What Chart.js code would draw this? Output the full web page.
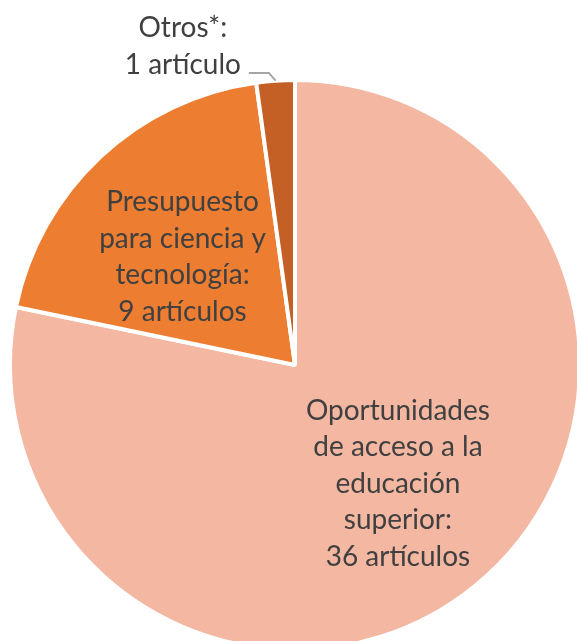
<!DOCTYPE html>
<html>
<head>
<meta charset="utf-8">
<script src="https://cdn.jsdelivr.net/npm/chart.js@4"></script>
<style>
  html, body { margin: 0; padding: 0; background: #fff; overflow: hidden; }
  body { width: 577px; height: 641px; position: relative; }
  #wrap { position: absolute; left: 0; top: 0; width: 582px; height: 652px; }
</style>
</head>
<body>
<div id="wrap"><canvas id="pieChart"></canvas></div>
<script>
// Articles per topic
const categories = [
    ['Oportunidades', 'de acceso a la', 'educación', 'superior:'],
    ['Presupuesto', 'para ciencia y', 'tecnología:'],
    ['Otros*:']
];
const articles = [36, 9, 1];
const unitLabels = ['36 artículos', '9 artículos', '1 artículo'];
const sliceColors = ['#F3B7A2', '#ED7D31', '#C46025'];

const FONT = '28px Lato';
const LINE = 36.5;
const BASE_SHIFT = 10;

// where each label sits: inside at a share of the radius, or outside with a leader
const labelLayout = [
    { dist: 0.55, dx: 4, dy: -4 },
    { dist: 0.55, dx: -5.5, dy: 5.5 },
    { outside: true, tx: -92.7, ty: -35.2, elbow: [-6.7, -7.7], end: [-26.7, -7.7] }
];

const sliceLabels = {
    id: 'sliceLabels',
    afterDatasetsDraw: (chart) => {
        const ctx = chart.ctx;
        const arcs = chart.getDatasetMeta(0).data;
        ctx.save();
        ctx.font = FONT;
        ctx.fillStyle = '#404040';
        ctx.textAlign = 'center';
        ctx.textBaseline = 'alphabetic';
        arcs.forEach((arc, i) => {
            const lay = labelLayout[i];
            const mid = (arc.startAngle + arc.endAngle) / 2;
            let cx, cy;
            if (lay.outside) {
                const ax = arc.x + Math.cos(mid) * arc.outerRadius;
                const ay = arc.y + Math.sin(mid) * arc.outerRadius;
                // leader line
                ctx.beginPath();
                ctx.moveTo(ax, ay);
                ctx.lineTo(ax + lay.elbow[0], ay + lay.elbow[1]);
                ctx.lineTo(ax + lay.end[0], ay + lay.end[1]);
                ctx.lineWidth = 2;
                ctx.strokeStyle = '#A5A5A5';
                ctx.stroke();
                cx = ax + lay.tx;
                cy = ay + lay.ty;
            } else {
                const r = arc.outerRadius * lay.dist;
                cx = arc.x + Math.cos(mid) * r + lay.dx;
                cy = arc.y + Math.sin(mid) * r + lay.dy;
            }
            const lines = categories[i].concat([unitLabels[i]]);
            const n = lines.length;
            lines.forEach((t, k) => {
                ctx.fillText(t, cx, cy + BASE_SHIFT + (k - (n - 1) / 2) * LINE);
            });
        });
        ctx.restore();
    }
};

const pieChart = new Chart(document.getElementById('pieChart').getContext('2d'), {
    type: 'pie',
    data: {
        labels: categories.map(c => c.join(' ')),
        datasets: [{
            data: articles,
            backgroundColor: sliceColors,
            borderColor: '#ffffff',
            borderWidth: 4
        }]
    },
    options: {
        responsive: true,
        maintainAspectRatio: false,
        animation: false,
        layout: { padding: { left: 8, top: 78, right: 0, bottom: 0 } },
        plugins: {
            legend: { display: false },
            tooltip: { enabled: false }
        }
    },
    plugins: [sliceLabels]
});
</script>
</body>
</html>
